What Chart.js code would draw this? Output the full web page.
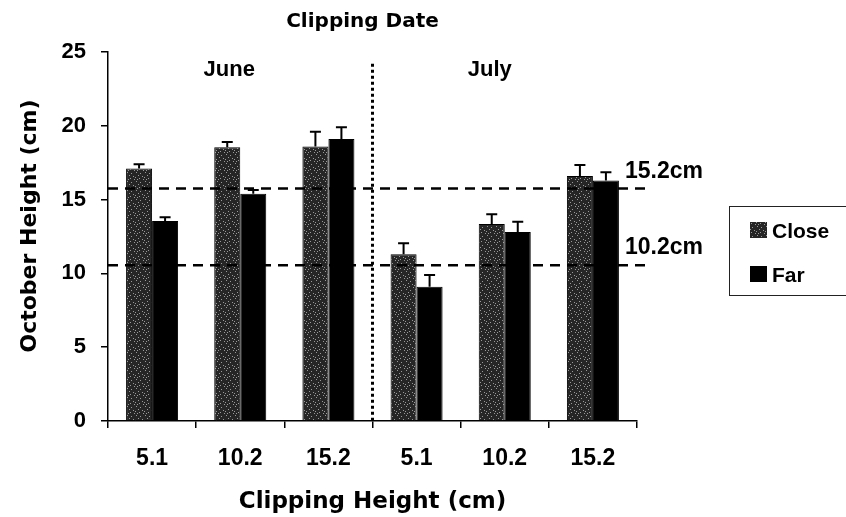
<!DOCTYPE html>
<html>
<head>
<meta charset="utf-8">
<script src="https://cdn.jsdelivr.net/npm/chart.js@4.4.0/dist/chart.umd.min.js"></script>
<style>
  html, body { margin: 0; padding: 0; background: #fff; }
  #wrap { width: 846px; height: 517px; }
</style>
</head>
<body>
<div id="wrap"><canvas id="clipChart"></canvas></div>
<script>
// data
var heights = ["5.1", "10.2", "15.2", "5.1", "10.2", "15.2"];
var months = ["June", "July"];
var closeVals = [17.1, 18.55, 18.6, 11.3, 13.35, 16.6];
var closeErr = [0.3, 0.35, 1.0, 0.75, 0.65, 0.75];
var farVals = [13.55, 15.4, 19.1, 9.1, 12.8, 16.3];
var farErr = [0.25, 0.25, 0.8, 0.8, 0.7, 0.55];
var refLines = [15.75, 10.55];
var refLabels = ["15.2cm", "10.2cm"];
var yTicks = [0, 5, 10, 15, 20, 25];

var FONT = "'Liberation Sans', Arial, sans-serif";
var WIDE = "'DejaVu Sans', sans-serif";

// stippled fill for the "Close" bars
function makeStipple(){
	var c = document.createElement("canvas");
	c.width = 9; c.height = 9;
	var g = c.getContext("2d");
	g.fillStyle = "#262626";
	g.fillRect(0, 0, 9, 9);
	g.fillStyle = "#9a9a9a";
	var dots = [[1,1],[5,2],[3,4],[7,5],[0,6],[4,7],[8,8],[2,8]];
	for (var i = 0; i < dots.length; i++) g.fillRect(dots[i][0], dots[i][1], 1, 1);
	return g.createPattern(c, "repeat");
}
var stipple = makeStipple();

var extras = {
	id: "extras",
	afterDatasetsDraw: function(chart){
		var ctx = chart.ctx;
		var xs = chart.scales.x, ys = chart.scales.y;
		var area = chart.chartArea;
		ctx.save();

		// error bars (upper only)
		var errs = [closeErr, farErr];
		var vals = [closeVals, farVals];
		ctx.strokeStyle = "#000";
		ctx.lineWidth = 2;
		for (var d = 0; d < 2; d++){
			var meta = chart.getDatasetMeta(d);
			for (var i = 0; i < meta.data.length; i++){
				var bx = meta.data[i].x;
				var yTop = ys.getPixelForValue(vals[d][i] + errs[d][i]);
				var yBar = ys.getPixelForValue(vals[d][i]);
				ctx.beginPath();
				ctx.moveTo(bx, yBar);
				ctx.lineTo(bx, yTop);
				ctx.moveTo(bx - 5.5, yTop);
				ctx.lineTo(bx + 5.5, yTop);
				ctx.stroke();
			}
		}

		// dashed reference lines + labels
		ctx.setLineDash([10, 7]);
		ctx.lineWidth = 2.5;
		for (var r = 0; r < refLines.length; r++){
			var py = ys.getPixelForValue(refLines[r]);
			ctx.beginPath();
			ctx.moveTo(area.left, py);
			ctx.lineTo(area.right + 8, py);
			ctx.stroke();
		}
		ctx.setLineDash([]);
		ctx.fillStyle = "#000";
		ctx.font = "bold 23px " + FONT;
		ctx.textAlign = "left";
		ctx.textBaseline = "alphabetic";
		for (var r = 0; r < refLines.length; r++){
			var py = ys.getPixelForValue(refLines[r]);
			ctx.fillText(refLabels[r], area.right - 12, py - 11);
		}

		// dotted divider between June and July
		var midX = (xs.getPixelForValue(2) + xs.getPixelForValue(3)) / 2;
		ctx.setLineDash([3, 3]);
		ctx.lineWidth = 3;
		ctx.beginPath();
		ctx.moveTo(midX, ys.getPixelForValue(24.2));
		ctx.lineTo(midX, area.bottom);
		ctx.stroke();
		ctx.setLineDash([]);

		// month labels and top title
		ctx.textAlign = "center";
		ctx.font = "bold 22px " + FONT;
		ctx.fillText(months[0], xs.getPixelForValue(1) - 11, 76);
		ctx.fillText(months[1], xs.getPixelForValue(4) - 15, 76);
		ctx.font = "bold 20px " + WIDE;
		ctx.fillText("Clipping Date", midX - 10, 27);

		// y axis title
		ctx.save();
		ctx.translate(30, 226);
		ctx.rotate(-Math.PI / 2);
		ctx.textBaseline = "middle";
		ctx.font = "bold 22px " + WIDE;
		ctx.fillText("October Height (cm)", 0, 0);
		ctx.restore();

		// legend
		ctx.lineWidth = 1;
		ctx.strokeStyle = "#222";
		ctx.strokeRect(729.5, 206.5, 130, 89);
		var sets = chart.data.datasets;
		var ly = [238, 282];
		ctx.textAlign = "left";
		ctx.font = "bold 21px " + FONT;
		for (var k = 0; k < sets.length; k++){
			ctx.fillStyle = sets[k].backgroundColor;
			ctx.fillRect(750, ly[k] - 16, 17, 16);
			ctx.fillStyle = "#000";
			ctx.fillText(sets[k].label, 772, ly[k]);
		}
		ctx.restore();
	}
};

var ctx = document.getElementById("clipChart");
var chart = new Chart(ctx, {
	type: "bar",
	data: {
		labels: heights,
		datasets: [
			{
				label: "Close",
				data: closeVals,
				backgroundColor: stipple,
				borderColor: "#000",
				borderWidth: 1,
				barPercentage: 1.0,
				categoryPercentage: 0.59
			},
			{
				label: "Far",
				data: farVals,
				backgroundColor: "#000",
				borderColor: "#000",
				borderWidth: 1,
				barPercentage: 1.0,
				categoryPercentage: 0.59
			}
		]
	},
	options: {
		responsive: true,
		maintainAspectRatio: false,
		animation: false,
		layout: { padding: { left: 0, right: 209, top: 52, bottom: 0 } },
		plugins: {
			legend: { display: false },
			tooltip: { enabled: false }
		},
		scales: {
			x: {
				grid: { display: true, drawOnChartArea: false, offset: true, tickLength: 7, color: "#000", lineWidth: 1.5 },
				border: { color: "#000", width: 1.5 },
				ticks: { color: "#000", padding: 17, font: { family: FONT, size: 23, weight: "bold" } },
				title: { display: true, text: "Clipping Height (cm)", color: "#000", padding: { top: 0, bottom: 1 }, font: { family: WIDE, size: 23, weight: "bold" } },
				afterFit: function(s){ s.height = 96; }
			},
			y: {
				min: 0,
				max: 25,
				afterBuildTicks: function(s){ s.ticks = yTicks.map(function(v){ return { value: v }; }); },
				grid: { display: true, drawOnChartArea: false, tickLength: 7, color: "#000", lineWidth: 1.5 },
				border: { color: "#000", width: 1.5 },
				ticks: { color: "#000", padding: 15, font: { family: FONT, size: 22, weight: "bold" } },
				afterFit: function(s){ s.width = 108; }
			}
		}
	},
	plugins: [extras]
});
</script>
</body>
</html>
